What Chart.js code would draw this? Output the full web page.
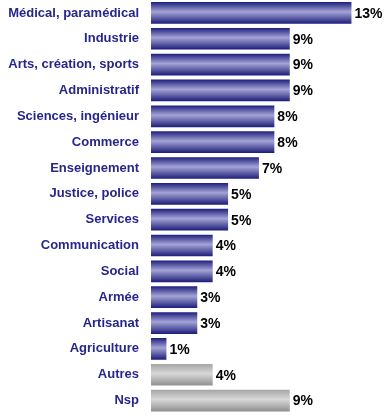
<!DOCTYPE html>
<html>
<head>
<meta charset="utf-8">
<script src="https://cdn.jsdelivr.net/npm/chart.js@4/dist/chart.umd.min.js"></script>
<style>
  html, body { margin: 0; padding: 0; background: #fff; }
  #wrap { width: 390px; height: 415px; position: relative; }
</style>
</head>
<body>
<div id="wrap"><canvas id="metiersChart"></canvas></div>
<script>
const categories = ['Médical, paramédical', 'Industrie', 'Arts, création, sports', 'Administratif',
    'Sciences, ingénieur', 'Commerce', 'Enseignement', 'Justice, police', 'Services',
    'Communication', 'Social', 'Armée', 'Artisanat', 'Agriculture', 'Autres', 'Nsp'];
const values = [13, 9, 9, 9, 8, 8, 7, 5, 5, 4, 4, 3, 3, 1, 4, 9];
const valueLabels = ['13%', '9%', '9%', '9%', '8%', '8%', '7%', '5%', '5%', '4%', '4%', '3%', '3%', '1%', '4%', '9%'];
const greyCategories = ['Autres', 'Nsp'];

// vertical gradient per bar, dark edges and light middle
function barFill(context) {
    const chart = context.chart;
    const yScale = chart.scales.y;
    if (!yScale || context.dataIndex === undefined) return '#5a5aa8';
    const c = yScale.getPixelForValue(context.dataIndex);
    if (!isFinite(c)) return '#5a5aa8';
    const half = 11;
    const g = chart.ctx.createLinearGradient(0, c - half, 0, c + half);
    if (greyCategories.includes(categories[context.dataIndex])) {
        g.addColorStop(0, '#a4a4a4');
        g.addColorStop(0.45, '#d8d8d8');
        g.addColorStop(1, '#8e8e8e');
    } else {
        g.addColorStop(0, '#1c1c7c');
        g.addColorStop(0.45, '#a4a4d6');
        g.addColorStop(1, '#1a1a78');
    }
    return g;
}

const valueLabelPlugin = {
    id: 'valueLabels',
    afterDatasetsDraw(chart) {
        const ctx = chart.ctx;
        const meta = chart.getDatasetMeta(0);
        ctx.save();
        ctx.font = 'bold 14px "Liberation Sans", Arial, sans-serif';
        ctx.fillStyle = '#000';
        ctx.textBaseline = 'middle';
        meta.data.forEach((bar, i) => {
            ctx.fillText(valueLabels[i], bar.x + 3, bar.y + 1);
        });
        ctx.restore();
    }
};

new Chart(document.getElementById('metiersChart').getContext('2d'), {
    type: 'bar',
    data: {
        labels: categories,
        datasets: [{
            data: values,
            backgroundColor: barFill,
            borderWidth: 0,
            barPercentage: 0.84,
            categoryPercentage: 1
        }]
    },
    options: {
        indexAxis: 'y',
        responsive: true,
        maintainAspectRatio: false,
        animation: false,
        layout: { padding: { top: -1.5, bottom: 1.5, left: 0, right: 0 } },
        plugins: {
            legend: { display: false },
            tooltip: { enabled: false }
        },
        scales: {
            x: { display: false, min: 0, max: 15.5 },
            y: {
                grid: { display: false, drawTicks: false },
                border: { display: false },
                afterFit(scale) {
                    scale.width = 151;
                    scale.paddingTop = 0;
                    scale.paddingBottom = 0;
                },
                ticks: {
                    padding: 12,
                    color: '#26268c',
                    font: { family: '"Liberation Sans", Arial, sans-serif', size: 13, weight: 'bold' }
                }
            }
        }
    },
    plugins: [valueLabelPlugin]
});
</script>
</body>
</html>
